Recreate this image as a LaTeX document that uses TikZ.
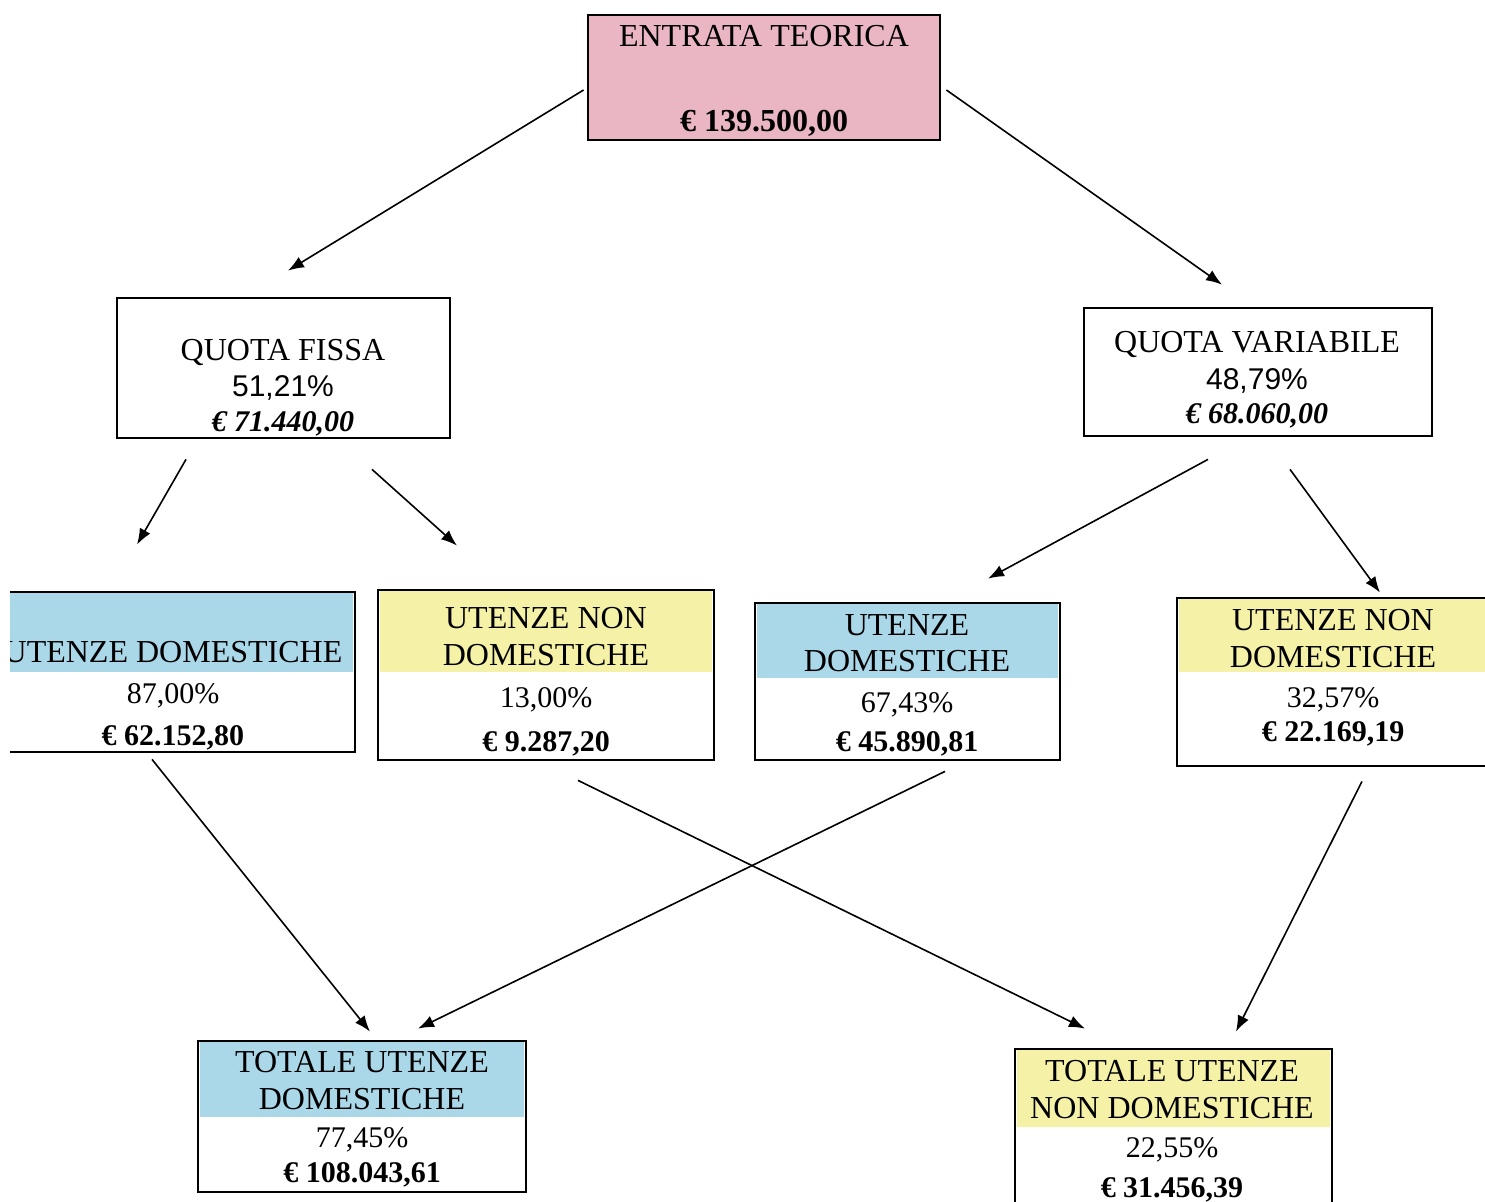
\documentclass[tikz,border=0pt]{standalone}
\usepackage{fontspec}
\setmainfont{Liberation Serif}
\newfontfamily\arialfont{Liberation Sans}
\usetikzlibrary{arrows.meta}
\definecolor{rosa}{HTML}{EAB6C4}
\definecolor{azzurro}{HTML}{ABD8E9}
\definecolor{giallo}{HTML}{F5F2A8}
\newcommand{\riga}{\fontsize{15}{18}\selectfont}

\begin{document}
\begin{tikzpicture}[x=0.5pt, y=-0.5pt]
\tikzstyle{box} = [draw, line width=1.4pt, fill=white, inner sep=0pt]
\tikzstyle{txt} = [align=center, inner sep=0pt, font=\fontsize{16}{18}\selectfont]
\tikzstyle{arr} = [-{Latex[length=8pt, width=6pt]}, line width=0.8pt]
\tikzset{band/.style 2 args={path picture={\fill[#1] ([xshift=1pt]path picture bounding box.north west) rectangle ([xshift=-1pt, yshift=-#2]path picture bounding box.north east);}}}
\useasboundingbox (0,0) rectangle (1485,1202);
\clip (10,0) rectangle (1485,1202);

% entrata e quote
\node[box, fill=rosa, minimum width=176pt, minimum height=62.5pt] (ent) at (764,77.5) {};
\node[txt] (entt) at (764,80.5) {ENTRATA TEORICA\\[24.5pt]\textbf{€ 139.500,00}};
\node[box, minimum width=166.5pt, minimum height=70pt] (qf) at (283.5,368) {};
\node[txt] (qft) at (283,387.5) {QUOTA FISSA\\{\arialfont\riga 51,21\%}\\[-0.5pt]{\riga\bfseries\itshape € 71.440,00}};
\node[box, minimum width=174pt, minimum height=64pt] (qv) at (1258,372) {};
\node[txt] (qvt) at (1257,379.5) {QUOTA VARIABILE\\[0.5pt]{\arialfont\riga 48,79\%}\\[-1pt]{\riga\bfseries\itshape € 68.060,00}};

% utenze
\node[box, band={azzurro}{40pt}, minimum width=182pt, minimum height=80pt] (ud1) at (173,672) {};
\node[txt] (ud1t) at (173,696) {UTENZE DOMESTICHE\\[2.5pt]{\riga 87,00\%}\\[3pt]{\riga\bfseries € 62.152,80}};
\node[box, band={giallo}{41pt}, minimum width=168pt, minimum height=85pt] (und1) at (546,675) {};
\node[txt] (und1t) at (546,682) {UTENZE NON\\[0.5pt]DOMESTICHE\\[3pt]{\riga 13,00\%}\\[4pt]{\riga\bfseries € 9.287,20}};
\node[box, band={azzurro}{37.5pt}, minimum width=152.5pt, minimum height=78.5pt] (ud2) at (907.5,681.5) {};
\node[txt] (ud2t) at (907,685.5) {UTENZE\\DOMESTICHE\\[2.5pt]{\riga 67,43\%}\\[1.5pt]{\riga\bfseries € 45.890,81}};
\node[box, band={giallo}{37pt}, minimum width=159pt, minimum height=84pt] (und2) at (1336,682) {};
\node[txt] (und2t) at (1333,678) {UTENZE NON\\[0.5pt]DOMESTICHE\\[2pt]{\riga 32,57\%}\\[-1pt]{\riga\bfseries € 22.169,19}};

% totali
\node[box, band={azzurro}{38pt}, minimum width=164pt, minimum height=75.5pt] (tud) at (362,1116.5) {};
\node[txt] (tudt) at (362,1119.5) {TOTALE UTENZE\\[0.5pt]DOMESTICHE\\[1pt]{\riga 77,45\%}\\[-0.5pt]{\riga\bfseries € 108.043,61}};
\node[box, band={giallo}{39pt}, minimum width=158.5pt, minimum height=83pt] (tund) at (1173.5,1132) {};
\node[txt] (tundt) at (1172,1131.5) {TOTALE UTENZE\\[0.5pt]NON DOMESTICHE\\[1.5pt]{\riga 22,55\%}\\[2pt]{\riga\bfseries € 31.456,39}};

% frecce
\draw[arr] ([xshift=-1.5pt, yshift=-6.25pt]ent.west) -- ([xshift=2.25pt, yshift=13pt]qf.north);
\draw[arr] ([xshift=2.5pt, yshift=-6.25pt]ent.east) -- ([xshift=-18pt, yshift=11pt]qv.north);
\draw[arr] ([xshift=-48.75pt, yshift=-10pt]qf.south) -- ([xshift=-18pt, yshift=23pt]ud1.north);
\draw[arr] ([xshift=44.25pt, yshift=-15pt]qf.south) -- ([xshift=-44.5pt, yshift=21.5pt]und1.north);
\draw[arr] ([xshift=-25pt, yshift=-11pt]qv.south) -- ([xshift=40.25pt, yshift=11.5pt]ud2.north);
\draw[arr] ([xshift=16pt, yshift=-16pt]qv.south) -- ([xshift=22pt, yshift=2pt]und2.north);
\draw[arr] ([xshift=-10.5pt, yshift=-3pt]ud1.south) -- ([xshift=4pt, yshift=4pt]tud.north);
\draw[arr] ([xshift=16pt, yshift=-9.5pt]und1.south) -- ([xshift=-44.25pt, yshift=9.5pt]tund.north);
\draw[arr] ([xshift=18.75pt, yshift=-5pt]ud2.south) -- ([xshift=28pt, yshift=5.5pt]tud.north);
\draw[arr] ([xshift=13pt, yshift=-7pt]und2.south) -- ([xshift=31.25pt, yshift=8pt]tund.north);
\end{tikzpicture}
\end{document}
